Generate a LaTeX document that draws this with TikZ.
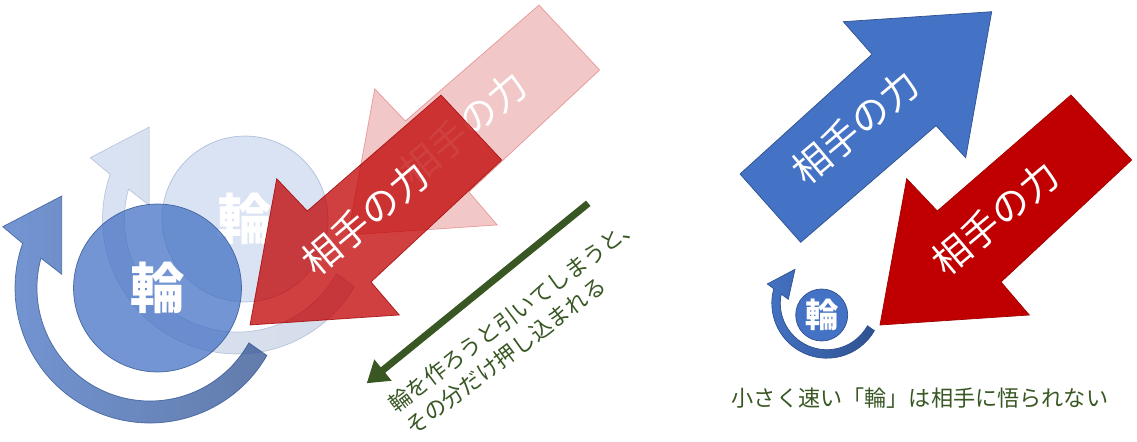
\documentclass[tikz,border=0pt]{standalone}
\usepackage{fontspec}
\newfontfamily\jp{Noto Sans CJK JP}
\usetikzlibrary{calc,arrows.meta}

\definecolor{accentblue}{HTML}{4472C4}
\definecolor{blueline}{HTML}{2F528F}
\definecolor{ringdark}{HTML}{2E4F8F}
\definecolor{forcered}{HTML}{C00000}
\definecolor{redline}{HTML}{A00000}
\definecolor{mossgreen}{HTML}{385723}

\begin{document}
\begin{tikzpicture}[x=0.02cm, y=-0.02cm,
  forcetext/.style={text=white, font=\jp\fontsize{21.5}{24}\selectfont, rotate=40},
  ringtext/.style={circle, inner sep=0pt, text=white, text opacity=1},
  band/.style={left color=accentblue, right color=ringdark, draw=blueline, line width=0.4pt},
  note/.style={text=mossgreen, font=\jp\fontsize{12.6}{16.3}\selectfont}]

\useasboundingbox (0,0) rectangle (1137,442);

\coordinate (ghostc) at (237.5, 219);
\coordinate (bigc) at (150, 288);
\coordinate (smallc) at (826.8, 303.2);

\path [band, fill opacity=0.2, draw opacity=0.25] ($(ghostc)+(30:135)$) arc[start angle=30, end angle=199.3, radius=135] -- (90.2, 157.7) -- (149.2, 127) -- (149.2, 205.3) -- ($(ghostc)+(195.3:113)$) arc[start angle=195.3, end angle=29, radius=113] -- cycle;

\node (ghostring) at (245, 219) [ringtext, minimum size=3.32cm, fill=accentblue, fill opacity=0.2, draw=blueline, draw opacity=0.3, font=\jp\bfseries\fontsize{31}{31}\selectfont] {輪};

\draw [fill=forcered, fill opacity=0.22, draw=forcered, draw opacity=0.3] (539, 5) -- (599.7, 70) -- (469, 192) -- (497.3, 225) -- (348, 235) -- (374.7, 88.7) -- (405.3, 121) -- cycle;

\node (ghostforce) at (463, 128) [forcetext] {相手の力};

\path [band, fill opacity=0.75, draw opacity=0.75] ($(bigc)+(30:135)$) arc[start angle=30, end angle=199.3, radius=135] -- (2.7, 226.7) -- (61.7, 196) -- (61.7, 274.3) -- ($(bigc)+(195.3:113)$) arc[start angle=195.3, end angle=29, radius=113] -- cycle;

\node (bigring) at (157.5, 288) [ringtext, minimum size=3.36cm, fill=accentblue, fill opacity=0.75, draw=blueline, draw opacity=0.8, font=\jp\bfseries\fontsize{31}{31}\selectfont] {輪};

\draw [fill=forcered, fill opacity=0.75, draw=redline, draw opacity=0.8] (441, 95) -- (501.7, 160) -- (371, 282) -- (399.3, 315) -- (250, 325) -- (276.7, 178.7) -- (307.3, 211) -- cycle;

\node (redpush) at (365, 218) [forcetext] {相手の力};

\coordinate (pushfrom) at (588.3, 203.3);
\coordinate (pushto) at (366.7, 383.3);
\draw [mossgreen, line width=4pt, -{Triangle[length=0.42cm, width=0.52cm]}] (pushfrom) -- (pushto);

\node (pushnote) at (399.5, 418.3) [note, anchor=west, align=left, inner sep=0pt, rotate=37] {輪を作ろうと引いてしまうと、\\その分だけ押し込まれる};




\draw [fill=accentblue, draw=blueline, line width=0.4pt] (740, 174) -- (872, 54.3) -- (843.3, 21.7) -- (991.7, 11.7) -- (965.7, 157.7) -- (936, 125.7) -- (800.7, 242.3) -- cycle;

\node (blueforce) at (855, 127) [forcetext] {相手の力};

\draw [fill=forcered, draw=redline, line width=0.4pt] (1071, 95) -- (1131.7, 160) -- (1001, 282) -- (1029.3, 315) -- (880, 325) -- (906.7, 178.7) -- (937.3, 211) -- cycle;

\node (redforce) at (995, 218) [forcetext] {相手の力};

\path [band, right color=blueline] ($(smallc)+(30:55)$) arc[start angle=30, end angle=195.3, radius=55] -- (767.3, 284) -- (795, 269.3) -- (788.3, 299.3) -- ($(smallc)+(191.3:46.5)$) arc[start angle=191.3, end angle=29, radius=46.5] -- cycle;

\node (smallring) at (821.7, 315) [ringtext, minimum size=1.04cm, fill=accentblue, draw=blueline, line width=0.4pt, font=\jp\bfseries\fontsize{19}{19}\selectfont] {輪};

\node (caption) at (920, 398) [note] {小さく速い「輪」は相手に悟られない};

\end{tikzpicture}
\end{document}
